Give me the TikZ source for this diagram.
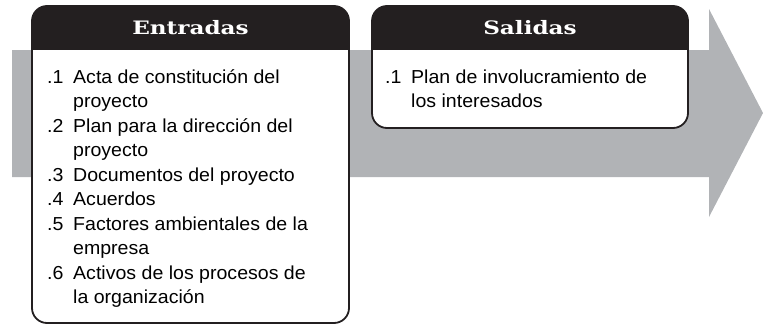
\documentclass[tikz,border=0pt]{standalone}
\usepackage{fontspec}
\setmainfont{Liberation Sans}
\newfontfamily\headfont[FakeStretch=1.25]{DejaVu Serif}
\newfontfamily\listfont[FakeStretch=1.04]{Liberation Sans}
\usetikzlibrary{positioning}
\definecolor{flowgray}{HTML}{B1B3B6}
\definecolor{headblack}{HTML}{231F20}
\newcommand{\itemnum}[1]{\makebox[26pt][l]{#1}}

\begin{document}
\begin{tikzpicture}[
    x=1pt, y=-1pt,
    panel/.style={draw=headblack, line width=1.8pt, fill=white, rounded corners=15pt, inner sep=0pt, outer sep=0pt},
    headbar/.style={fill=headblack, text=white, inner sep=0pt, outer sep=0pt, minimum height=44pt,
                    font=\headfont\bfseries\fontsize{18.5}{20}\selectfont},
    listtext/.style={align=left, inner sep=0pt, font=\listfont\fontsize{18.8}{24.5}\selectfont}
]
\useasboundingbox (0,0) rectangle (763,324);

% Flow arrow in the background
\fill[flowgray] (12,50) -- (709,50) -- (709,9) -- (763,113) -- (709,217) -- (709,177) -- (12,177) -- cycle;

% Inputs panel (list placed by the baseline of its last line)
\node[panel, minimum width=317pt, minimum height=317pt, anchor=north west] (entradas) at (32,6) {};
\begin{scope}
  \clip[rounded corners=15pt] (entradas.north west) rectangle (entradas.south east);
  \node[headbar, minimum width=317pt, anchor=north west] (entradasHead) at (entradas.north west) {Entradas};
\end{scope}
\node[listtext, anchor=base west] (entradasList) at (47,303.5) {
  \itemnum{.1}Acta de constitución del\\
  \itemnum{}proyecto\\
  \itemnum{.2}Plan para la dirección del\\
  \itemnum{}proyecto\\
  \itemnum{.3}Documentos del proyecto\\
  \itemnum{.4}Acuerdos\\
  \itemnum{.5}Factores ambientales de la\\
  \itemnum{}empresa\\
  \itemnum{.6}Activos de los procesos de\\
  \itemnum{}la organización
};

% Outputs panel
\node[panel, minimum width=316pt, minimum height=122pt, anchor=north west] (salidas) at (372,6) {};
\begin{scope}
  \clip[rounded corners=15pt] (salidas.north west) rectangle (salidas.south east);
  \node[headbar, minimum width=316pt, anchor=north west] (salidasHead) at (salidas.north west) {Salidas};
\end{scope}
\node[listtext, anchor=base west] (salidasList) at (385,107.5) {
  \itemnum{.1}Plan de involucramiento de\\
  \itemnum{}los interesados
};

\end{tikzpicture}
\end{document}
